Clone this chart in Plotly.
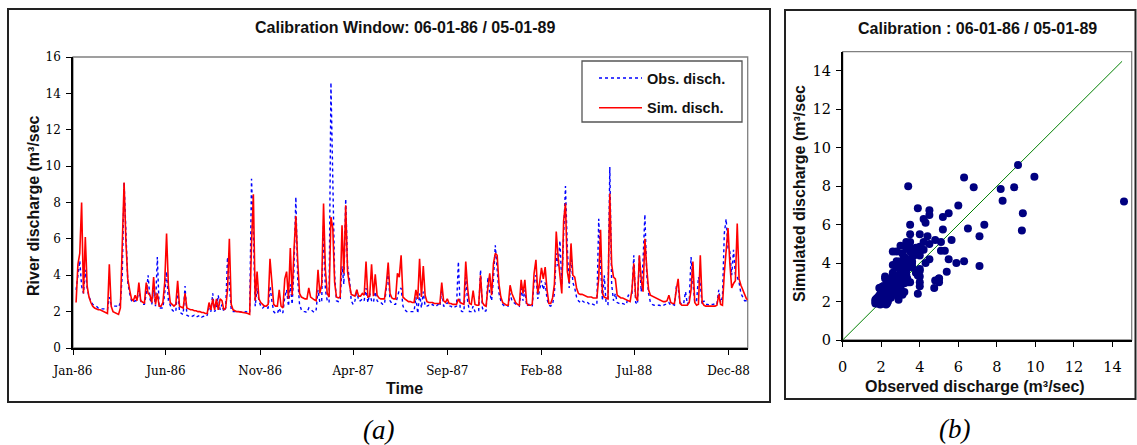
import pandas as pd
import plotly.graph_objects as go

# ---------------- data (3-day sampling) ----------------
start_date = "1986-01-06"
step_days = 3

obs = [
    3.2, 4.0, 4.8, 3.4, 3.0, 4.3, 3.3, 2.8, 2.55, 2.4,
    2.35, 2.3, 2.2, 2.2, 2.15, 2.15, 2.1, 2.1, 2.8, 2.4,
    2.35, 2.3, 2.3, 2.25, 2.5, 4.0, 9.1, 6.5, 3.6, 3.0,
    2.6, 2.5, 2.6, 2.6, 3.2, 2.6, 2.4, 2.4, 3.0, 4.0,
    2.7, 2.4, 3.2, 2.3, 5.0, 2.2, 2.2, 2.2, 3.0, 4.2,
    2.6, 2.3, 2.1, 2.0, 2.0, 3.3, 2.0, 1.9, 1.85, 3.4,
    1.8, 1.75, 1.7, 1.75, 1.8, 1.7, 1.75, 1.8, 1.7, 1.75,
    1.7, 1.8, 2.2,
    2.0, 3.0, 2.0, 2.2, 2.9, 2.1, 2.4, 2.0, 2.2, 5.0,
    3.5, 2.1, 2.0, 2.0, 2.0, 2.0, 2.0, 1.95, 1.95, 2.0,
    1.95, 1.95, 9.3, 6.3, 2.3, 3.3, 2.6, 2.3, 2.2, 2.3,
    2.2, 2.2, 3.4, 2.6, 2.0, 1.9, 1.9, 2.2, 1.9, 1.95,
    2.8, 3.2, 2.3, 3.5, 2.4, 4.4, 8.3, 3.8, 2.4, 2.1,
    2.0, 2.0, 1.95, 2.2, 2.1, 2.0, 1.95, 2.1, 3.2, 2.5,
    2.6, 6.8, 3.2, 2.6, 2.5, 14.6, 9.35, 4.0, 2.6, 2.55,
    2.6, 4.5, 3.5,
    8.2, 4.5, 3.8, 2.6, 2.4, 2.6, 3.2, 2.6, 2.6, 2.7,
    2.6, 3.3, 2.5, 3.0, 2.6, 2.5, 3.1, 2.6, 2.5, 2.5,
    2.4, 2.4, 3.2, 4.2, 2.6, 2.45, 2.4, 2.4, 2.8, 3.2,
    3.3, 2.3, 2.1, 2.0, 2.0, 2.0, 2.0, 2.0, 2.8, 1.9,
    3.0, 2.2, 3.1, 2.3, 2.3, 2.35, 2.3, 2.4, 2.3, 2.3,
    2.4, 2.3, 3.2, 2.3, 2.3, 2.5, 2.3, 2.3, 2.2, 2.25,
    2.3, 4.75, 2.1, 2.0, 2.0, 3.9, 2.6, 2.0, 2.0, 2.3,
    2.0, 2.0, 2.05,
    4.3, 2.2, 2.0, 2.05, 3.9, 3.0, 2.6, 3.8, 5.65, 4.2,
    3.0, 2.6, 2.4, 2.3, 2.3, 2.3, 3.0, 2.6, 2.5, 2.4,
    2.35, 2.3, 3.3, 2.6, 3.2, 2.3, 2.4, 2.4, 2.3, 3.6,
    4.0, 2.7, 3.2, 3.7, 3.2, 3.6, 2.7, 2.35, 2.3, 2.4,
    3.0, 5.2, 4.5, 5.9, 3.5, 6.0, 8.9, 5.5, 3.3, 5.2,
    3.6, 3.3, 2.8, 2.6, 2.5, 2.6, 2.5, 2.45, 2.5, 2.4,
    2.45, 2.4, 2.35, 2.4, 7.1, 4.5, 2.6, 4.0, 2.45, 2.4,
    9.95, 3.5, 2.6,
    3.0, 2.5, 2.45, 2.4, 2.45, 2.4, 2.4, 2.9, 2.95, 3.0,
    5.1, 2.5, 2.4, 5.1, 3.1, 4.8, 7.35, 4.0, 3.0, 2.5,
    2.4, 2.35, 2.35, 2.35, 2.35, 2.3, 2.35, 2.4, 2.4, 2.5,
    2.35, 2.4, 2.35, 3.35, 3.3, 2.5, 2.4, 2.45, 3.1, 2.4,
    2.6, 5.0, 3.6, 2.5, 2.6, 3.9, 3.5, 2.4, 2.6, 2.4,
    2.4, 2.35, 2.4, 2.4, 2.45, 2.4, 3.2, 2.5, 2.8, 6.3,
    7.1, 5.5, 5.3, 4.0, 5.4, 4.0, 3.9, 3.6, 3.0, 2.8,
    2.6, 2.6, 2.6,
]

sim = [
    2.5, 4.6, 5.2, 8.0, 3.0, 6.1, 3.4, 2.8, 2.5, 2.3,
    2.2, 2.15, 2.1, 2.1, 2.05, 2.0, 1.95, 1.9, 4.6, 2.3,
    2.0, 1.95, 1.9, 1.85, 2.2, 5.5, 9.1, 5.8, 3.8, 3.2,
    2.7, 2.6, 2.9, 2.6, 3.6, 2.6, 2.5, 2.45, 3.6, 3.0,
    2.9, 2.5, 3.9, 2.4, 3.0, 2.3, 2.3, 2.5, 3.6, 6.3,
    3.4, 2.5, 2.4, 2.3, 2.4, 3.7, 2.3, 2.25, 2.2, 3.0,
    2.2, 2.15, 2.1, 2.1, 2.05, 2.05, 2.0, 2.0, 1.95, 1.95,
    1.9, 1.9, 2.5,
    2.1, 2.7, 2.1, 2.7, 2.1, 2.7, 2.6, 2.1, 2.2, 3.2,
    6.0, 2.4, 2.1, 2.05, 2.0, 2.0, 1.97, 1.95, 1.93, 1.92,
    1.9, 1.85, 5.7, 8.45, 2.6, 4.2, 2.7, 2.5, 2.4, 2.3,
    2.3, 2.4, 4.9, 3.4, 2.4, 2.3, 2.3, 3.2, 2.3, 2.2,
    3.8, 4.2, 2.7, 5.5, 2.9, 5.4, 7.25, 4.8, 3.0, 2.8,
    2.75, 2.7, 2.7, 3.3, 2.8, 2.7, 2.65, 2.6, 4.3, 3.0,
    3.5, 7.95, 4.3, 3.0, 2.8, 7.2, 6.6, 3.6, 2.8, 2.75,
    2.8, 6.75, 4.1,
    7.85, 4.2, 3.5, 2.95, 2.9, 2.85, 3.2, 2.85, 2.85, 3.0,
    2.9, 4.75, 2.8, 2.85, 4.6, 2.85, 4.05, 2.9, 2.75, 2.7,
    2.7, 2.7, 3.5, 4.7, 3.0, 2.75, 2.7, 2.7, 4.1, 3.9,
    5.1, 2.8, 2.7, 2.6, 2.55, 2.55, 2.5, 2.5, 3.2, 2.7,
    4.9, 2.8, 4.5, 2.9, 2.55, 2.5, 2.5, 2.5, 2.45, 2.45,
    2.45, 2.45, 3.6, 2.6, 2.5, 2.7, 2.45, 2.45, 2.4, 2.4,
    2.4, 2.7, 2.5, 2.45, 2.4, 4.75, 3.3, 2.45, 2.4, 3.15,
    2.4, 2.35, 2.35,
    4.0, 2.5, 2.35, 2.3, 3.35, 4.1, 2.9, 4.65, 5.2, 5.1,
    3.5, 2.8, 2.5, 2.4, 2.35, 2.35, 3.45, 3.0, 2.75, 2.5,
    2.4, 2.35, 3.75, 3.0, 3.75, 2.45, 2.35, 2.35, 2.4, 4.1,
    4.85, 3.0, 3.6, 4.4, 3.8, 4.45, 3.2, 2.45, 2.45, 2.75,
    3.5, 6.4, 5.0, 4.0, 3.0, 7.0, 7.95, 4.2, 3.6, 5.75,
    4.0, 3.9, 3.3, 3.0, 2.95, 2.95, 2.9, 2.85, 2.8, 2.8,
    2.8, 2.75, 2.75, 2.75, 3.85, 6.5, 3.0, 2.8, 2.75, 2.7,
    8.5, 4.6, 3.9,
    3.8, 2.9, 2.8, 2.75, 2.75, 2.7, 2.65, 2.6, 2.55, 3.2,
    4.65, 2.8, 2.6, 5.1, 3.8, 3.1, 6.0, 4.4, 3.2, 2.9,
    2.85, 2.8, 2.75, 2.7, 2.65, 2.6, 2.55, 2.55, 2.6, 2.9,
    2.5, 2.45, 2.45, 3.2, 3.8, 2.45, 2.35, 2.35, 2.35, 2.35,
    2.5, 3.2, 4.75, 2.5, 2.35, 2.4, 5.1, 2.5, 2.35, 2.3,
    2.3, 2.3, 2.3, 2.3, 2.3, 2.35, 2.95, 2.4, 2.35, 4.1,
    5.4, 6.6, 4.65, 3.3, 3.55, 3.7, 6.85, 3.8, 3.45, 3.2,
    2.9, 2.7, 2.65,
]

one_to_one = [0, 14.5]

ts_title = "Calibration Window: 06-01-86 / 05-01-89"
sc_title = "Calibration : 06-01-86 / 05-01-89"
ts_ylabel = "River discharge (m³/sec"
ts_xlabel = "Time"
sc_ylabel = "Simulated discharge (m³/sec"
sc_xlabel = "Observed discharge (m³/sec)"

dates = pd.date_range(start_date, periods=len(obs), freq=f"{step_days}D")

# ---------------- layout helpers ----------------
W, H = 1137, 445


def px(x):
    return x / W


def py(y):
    return 1 - y / H


SANS = "Liberation Sans, Arial, sans-serif"
SERIF = "DejaVu Serif, serif"
CAP = "Liberation Serif, Times New Roman, serif"

fig = go.Figure()

fig.add_trace(go.Scatter(
    x=dates, y=obs, mode="lines", name="Obs. disch.", legendgroup="a",
    line=dict(color="#0000FF", width=1.4, dash="dot"),
    xaxis="x", yaxis="y",
))
fig.add_trace(go.Scatter(
    x=dates, y=sim, mode="lines", name="Sim. disch.", legendgroup="b",
    line=dict(color="#FF0000", width=1.6),
    xaxis="x", yaxis="y",
))
fig.add_trace(go.Scatter(
    x=one_to_one, y=one_to_one, mode="lines", showlegend=False,
    line=dict(color="#008000", width=1),
    xaxis="x2", yaxis="y2",
))
fig.add_trace(go.Scatter(
    x=obs, y=sim, mode="markers", showlegend=False,
    marker=dict(color="#000080", size=8, line=dict(width=0)),
    xaxis="x2", yaxis="y2",
))

axis_common = dict(
    showgrid=False, zeroline=False, ticks="outside", ticklen=5,
    tickcolor="black", tickwidth=1, showline=True, linecolor="black",
    linewidth=1.5, automargin=False,
)

fig.update_layout(
    width=W, height=H, autosize=False,
    margin=dict(l=0, r=0, t=0, b=0, pad=0, autoexpand=False),
    paper_bgcolor="white", plot_bgcolor="white",
    xaxis=dict(
        domain=[px(73), px(747.7)], anchor="y", type="date",
        range=["1986-01-01", "1989-01-01"], tick0="1986-01-01", dtick="M5",
        tickformat="%b-%y", ticklabelstandoff=6,
        tickfont=dict(family=SERIF, size=12, color="black"), **axis_common,
    ),
    yaxis=dict(
        domain=[py(348), py(57)], anchor="x", range=[0, 16], dtick=2,
        ticklabelstandoff=3,
        tickfont=dict(family=SERIF, size=12, color="black"), **axis_common,
    ),
    xaxis2=dict(
        domain=[px(842.7), px(1131.7)], anchor="y2", range=[0, 15], dtick=2,
        tick0=0, ticklabelstandoff=8,
        tickfont=dict(family=SERIF, size=14.5, color="black"), **axis_common,
    ),
    yaxis2=dict(
        domain=[py(340), py(51.7)], anchor="x2", range=[0, 15], dtick=2,
        tick0=0, ticklabelstandoff=2,
        tickfont=dict(family=SERIF, size=14.5, color="black"), **axis_common,
    ),
    legend=dict(
        x=px(594), y=py(62), xanchor="left", yanchor="top",
        bgcolor="rgba(0,0,0,0)", borderwidth=0, itemwidth=43,
        traceorder="grouped", tracegroupgap=8,
        font=dict(family=SANS, size=14.5, color="#111111", weight="bold"),
    ),
    showlegend=True,
)

shapes = [
    # outer panel frames
    dict(type="rect", xref="paper", yref="paper", x0=px(8), x1=px(770),
         y0=py(402), y1=py(9), line=dict(color="#222222", width=2)),
    dict(type="rect", xref="paper", yref="paper", x0=px(785), x1=px(1135.5),
         y0=py(399), y1=py(10), line=dict(color="#222222", width=2)),
    # plot-area borders (grey)
    dict(type="rect", xref="paper", yref="paper", x0=px(73), x1=px(747.7),
         y0=py(348), y1=py(57), line=dict(color="#808080", width=1.3), layer="below"),
    dict(type="rect", xref="paper", yref="paper", x0=px(842.7), x1=px(1131.7),
         y0=py(340), y1=py(51.7), line=dict(color="#808080", width=1.3), layer="below"),
    # legend box
    dict(type="rect", xref="paper", yref="paper", x0=px(582), x1=px(742),
         y0=py(122), y1=py(61), line=dict(color="#555555", width=1.3)),
]
fig.update_layout(shapes=shapes)


def ann(text, x, y, size, family=SANS, angle=0, color="#111111"):
    return dict(text=text, x=px(x), y=py(y), xref="paper", yref="paper",
                xanchor="center", yanchor="middle", showarrow=False,
                textangle=angle, font=dict(family=family, size=size, color=color))


annotations = [
    ann(f"<b>{ts_title}</b>", 405, 28, 16),
    ann(f"<b>{ts_ylabel}</b>", 33, 206, 16, angle=-90),
    ann(f"<b>{ts_xlabel}</b>", 404, 388, 16),
    ann(f"<b>{sc_title}</b>", 977.5, 29, 16),
    ann(f"<b>{sc_ylabel}</b>", 799, 194, 16, angle=-90),
    ann(f"<b>{sc_xlabel}</b>", 975, 386, 16),
    ann("<i>(a)</i>", 378, 430, 27, family=CAP, color="black"),
    ann("<i>(b)</i>", 954, 429, 27, family=CAP, color="black"),
]
fig.update_layout(annotations=annotations)

fig.write_html("out.html", config={"displayModeBar": False})
